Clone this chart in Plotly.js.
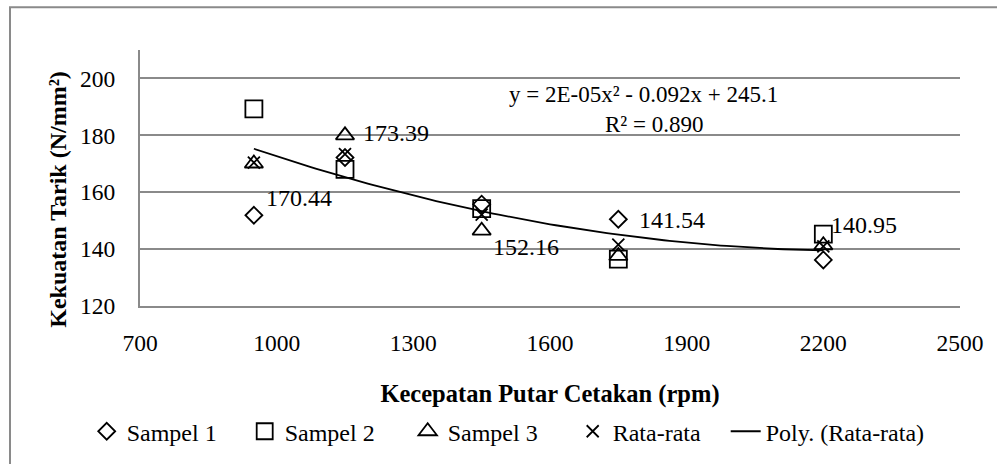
<!DOCTYPE html>
<html>
<head>
<meta charset="utf-8">
<script src="https://cdn.plot.ly/plotly-3.0.1.min.js"></script>
<style>html,body{margin:0;padding:0;background:#fff;}#chart{width:997px;height:464px;}</style>
</head>
<body>
<div id="chart"></div>
<script>
// Data
const rpm = [950, 1150, 1450, 1750, 2200];
const sampel1 = [151.9, 172.2, 155.8, 150.5, 136.2];
const sampel2 = [189.3, 168.0, 154.2, 136.5, 145.3];
const sampel3 = [170.1, 180.0, 146.5, 137.6, 141.35];
const rataRata = [170.44, 173.39, 152.16, 141.54, 140.95];
const avgLabels = ["170.44", "173.39", "152.16", "141.54", "140.95"];
const xTicks = [700, 1000, 1300, 1600, 1900, 2200, 2500];
const yTicks = [120, 140, 160, 180, 200];
const eqText = "y = 2E-05x² - 0.092x + 245.1";
const r2Text = "R² = 0.890";

// least-squares quadratic fit of the averages (Excel "Poly." trendline, order 2)
function polyFit2(xs, ys) {
  let n = xs.length, s = [0,0,0,0,0], t = [0,0,0];
  for (let i = 0; i < n; i++) {
    let p = 1;
    for (let k = 0; k < 5; k++) { s[k] += p; if (k < 3) t[k] += p * ys[i]; p *= xs[i]; }
  }
  const A = [[s[0], s[1], s[2], t[0]], [s[1], s[2], s[3], t[1]], [s[2], s[3], s[4], t[2]]];
  for (let c = 0; c < 3; c++) {
    for (let r = c + 1; r < 3; r++) {
      const f = A[r][c] / A[c][c];
      for (let k = c; k < 4; k++) A[r][k] -= f * A[c][k];
    }
  }
  const x = [0,0,0];
  for (let r = 2; r >= 0; r--) {
    let v = A[r][3];
    for (let k = r + 1; k < 3; k++) v -= A[r][k] * x[k];
    x[r] = v / A[r][r];
  }
  return x; // c0, c1, c2
}
const coef = polyFit2(rpm, rataRata);
const trendX = [], trendY = [];
const xMin = Math.min(...rpm), xMax = Math.max(...rpm);
for (let i = 0; i <= 100; i++) {
  const xv = xMin + (xMax - xMin) * i / 100;
  trendX.push(xv);
  trendY.push(coef[0] + coef[1] * xv + coef[2] * xv * xv);
}

const FONT = "'Liberation Serif', 'Times New Roman', serif";
const mk = (sym, size) => ({symbol: sym, size: size, color: "#000", line: {color: "#000", width: 1.8}});

const traces = [
  {x: rpm, y: sampel1, name: "Sampel 1", type: "scatter", mode: "markers", marker: mk("diamond-open", 13), legendwidth: 113},
  {x: rpm, y: sampel2, name: "Sampel 2", type: "scatter", mode: "markers", marker: mk("square-open", 17), legendwidth: 118},
  {x: rpm, y: sampel3, name: "Sampel 3", type: "scatter", mode: "markers", marker: mk("triangle-up-open", 16), legendwidth: 120},
  {x: rpm, y: rataRata, name: "Rata-rata", type: "scatter", mode: "markers", marker: mk("x-thin-open", 12), legendwidth: 108},
  {x: trendX, y: trendY, name: "Poly. (Rata-rata)", type: "scatter", mode: "lines", line: {color: "#000", width: 1.8}, hoverinfo: "skip"}
];

// label offsets (pixels) relative to each average point
const lblShift = [[10, -35], [16, 21], [9, -32], [19, 25], [6, 21]];
const annotations = rpm.map((xv, i) => ({
  x: xv, y: rataRata[i], xref: "x", yref: "y", text: avgLabels[i], showarrow: false,
  xanchor: "left", yanchor: "middle", xshift: lblShift[i][0], yshift: lblShift[i][1],
  font: {family: FONT, size: 24, color: "#000"}
}));
annotations.push({xref: "paper", yref: "paper", x: (643 - 140) / 820, y: (307.3 - 95) / 257.3, text: eqText,
  showarrow: false, xanchor: "center", yanchor: "middle", font: {family: FONT, size: 23, color: "#000"}});
annotations.push({xref: "paper", yref: "paper", x: (654 - 140) / 820, y: (307.3 - 125) / 257.3, text: r2Text,
  showarrow: false, xanchor: "center", yanchor: "middle", font: {family: FONT, size: 23, color: "#000"}});
// y axis title
annotations.push({xref: "paper", yref: "paper", x: (58 - 140) / 820, y: (307.3 - 200.5) / 257.3,
  text: "<b>Kekuatan Tarik (N/mm²)</b>", textangle: -90, showarrow: false, xanchor: "center", yanchor: "middle",
  font: {family: FONT, size: 24, color: "#000"}});

const layout = {
  width: 997, height: 464,
  margin: {l: 140, r: 37, t: 50, b: 156.7, pad: 0},
  paper_bgcolor: "#fff", plot_bgcolor: "#fff",
  font: {family: FONT, size: 24, color: "#000"},
  showlegend: true,
  legend: {orientation: "h", x: -0.065, xanchor: "left", y: -0.485, yanchor: "middle",
    font: {family: FONT, size: 24, color: "#000"},
    bgcolor: "rgba(0,0,0,0)", traceorder: "normal"},
  xaxis: {range: [700, 2500], tickvals: xTicks, ticktext: xTicks.map(String), showgrid: false, zeroline: false,
    showline: true, linecolor: "#8a8a8a", linewidth: 2, ticks: "", ticklabelstandoff: 15,
    tickfont: {family: FONT, size: 23.5, color: "#000"},
    title: {text: "<b>Kecepatan Putar Cetakan (rpm)</b>", font: {family: FONT, size: 24.5, color: "#000"}, standoff: 30}},
  yaxis: {range: [120, 210], tickvals: yTicks, ticktext: yTicks.map(String), showgrid: true, gridcolor: "#8a8a8a", gridwidth: 2,
    zeroline: false, showline: true, linecolor: "#8a8a8a", linewidth: 2, ticks: "", ticklabelstandoff: 18,
    tickfont: {family: FONT, size: 23.5, color: "#000"}},
  shapes: [{type: "rect", xref: "paper", yref: "paper", layer: "below",
    x0: (10 - 140) / 820, x1: (1040 - 140) / 820, y0: (307.3 - 520) / 257.3, y1: (307.3 - 7) / 257.3,
    line: {color: "#8a8a8a", width: 2}, fillcolor: "rgba(0,0,0,0)"}],
  annotations: annotations
};

Plotly.newPlot("chart", traces, layout, {displayModeBar: false, staticPlot: true});
</script>
</body>
</html>
